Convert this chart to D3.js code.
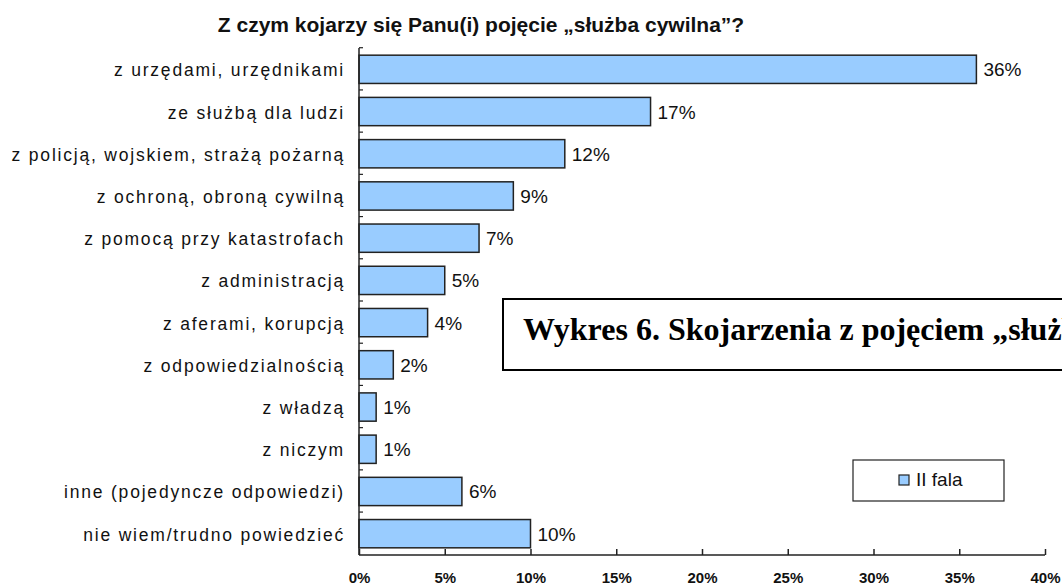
<!DOCTYPE html>
<html>
<head>
  <meta charset="utf-8">
  <script src="https://d3js.org/d3.v7.min.js"></script>
  <style>
    body { margin: 0; background: #fff; }
    svg { display: block; }
  </style>
</head>
<body>
  <svg width="1062" height="585"></svg>
  <script>
    // dane z wykresu
    var categories = [
      "z urzędami, urzędnikami",
      "ze służbą dla ludzi",
      "z policją, wojskiem, strażą pożarną",
      "z ochroną, obroną cywilną",
      "z pomocą przy katastrofach",
      "z administracją",
      "z aferami, korupcją",
      "z odpowiedzialnością",
      "z władzą",
      "z niczym",
      "inne (pojedyncze odpowiedzi)",
      "nie wiem/trudno powiedzieć"
    ];
    var values = [36, 17, 12, 9, 7, 5, 4, 2, 1, 1, 6, 10];
    var xTicks = [0, 5, 10, 15, 20, 25, 30, 35, 40];
    var seriesName = "II fala";
    var chartTitle = "Z czym kojarzy się Panu(i) pojęcie „służba cywilna”?";
    var boxText = "Wykres 6. Skojarzenia z pojęciem „służba cywilna”";

    var svg = d3.select("svg");
    var mLeft = 359, mRight = 1045, mTop = 48, mBottom = 555;
    var sans = "'Liberation Sans', Arial, sans-serif";

    var x = d3.scaleLinear().domain([0, 40]).range([mLeft, mRight]);
    var y = d3.scaleBand().domain(categories).range([mTop, mBottom])
      .paddingInner(0.33).paddingOuter(0.17);

    // tytuł
    svg.append("text")
      .attr("x", 481).attr("y", 32)
      .attr("text-anchor", "middle")
      .attr("font-family", sans).attr("font-size", 21).attr("font-weight", "bold")
      .attr("fill", "#111")
      .text(chartTitle);

    // słupki
    svg.selectAll(".bar")
      .data(values)
      .enter()
      .append("rect")
      .attr("class", "bar")
      .attr("x", x(0))
      .attr("y", function (d, i) { return y(categories[i]); })
      .attr("width", function (d) { return x(d) - x(0); })
      .attr("height", y.bandwidth())
      .attr("fill", "#99ccff")
      .attr("stroke", "#222")
      .attr("stroke-width", 1.5);

    // etykiety wartości
    svg.selectAll(".val")
      .data(values)
      .enter()
      .append("text")
      .attr("class", "val")
      .attr("x", function (d) { return x(d) + 7; })
      .attr("y", function (d, i) { return y(categories[i]) + y.bandwidth() / 2 + 7; })
      .attr("font-family", sans).attr("font-size", 19)
      .attr("fill", "#111")
      .text(function (d) { return d + "%"; });

    // oś Y
    var yAxis = svg.append("g")
      .attr("transform", "translate(" + mLeft + ",0)");
    yAxis.append("line")
      .attr("x1", 0).attr("x2", 0).attr("y1", mTop).attr("y2", mBottom)
      .attr("stroke", "#222").attr("stroke-width", 1.5);
    var step = y.step();
    yAxis.selectAll(".ytick")
      .data(categories)
      .enter()
      .append("line")
      .attr("x1", 0).attr("x2", 4)
      .attr("y1", function (d) { return y(d) - step * 0.33 / 2 - 0.5; })
      .attr("y2", function (d) { return y(d) - step * 0.33 / 2 - 0.5; })
      .attr("stroke", "#222").attr("stroke-width", 1.2);
    svg.selectAll(".cat")
      .data(categories)
      .enter()
      .append("text")
      .attr("class", "cat")
      .attr("x", 345)
      .attr("y", function (d) { return y(d) + y.bandwidth() / 2 + 7; })
      .attr("text-anchor", "end")
      .attr("font-family", sans).attr("font-size", 17.5)
      .attr("letter-spacing", 1.8)
      .attr("fill", "#111")
      .text(function (d) { return d; });

    // oś X
    var xAxis = svg.append("g")
      .attr("transform", "translate(0," + mBottom + ")")
      .call(d3.axisBottom(x).tickValues(xTicks).tickSize(-6).tickPadding(17)
        .tickFormat(function (d) { return d + "%"; }));
    xAxis.select(".domain").remove();
    xAxis.append("line")
      .attr("x1", mLeft).attr("x2", mRight).attr("y1", 0).attr("y2", 0)
      .attr("stroke", "#222").attr("stroke-width", 1.5);
    xAxis.selectAll(".tick line").attr("stroke", "#222").attr("stroke-width", 1.5);
    xAxis.selectAll(".tick text")
      .attr("font-family", sans).attr("font-size", 15).attr("font-weight", "bold")
      .attr("fill", "#111");

    // ramka z podpisem
    svg.append("rect")
      .attr("x", 503).attr("y", 299).attr("width", 600).attr("height", 71)
      .attr("fill", "#fff").attr("stroke", "#000").attr("stroke-width", 2);
    svg.append("text")
      .attr("x", 523).attr("y", 340)
      .attr("font-family", "'Liberation Serif', 'Times New Roman', serif")
      .attr("font-size", 32).attr("font-weight", "bold")
      .attr("fill", "#000")
      .text(boxText);

    // legenda
    var legend = svg.append("g");
    legend.append("rect")
      .attr("x", 853).attr("y", 460).attr("width", 151).attr("height", 41)
      .attr("fill", "#fff").attr("stroke", "#222").attr("stroke-width", 1.2);
    legend.append("rect")
      .attr("x", 899).attr("y", 475).attr("width", 10).attr("height", 10)
      .attr("fill", "#99ccff").attr("stroke", "#222").attr("stroke-width", 1.2);
    legend.append("text")
      .attr("x", 916).attr("y", 486)
      .attr("font-family", sans).attr("font-size", 19)
      .attr("fill", "#111")
      .text(seriesName);
  </script>
</body>
</html>
